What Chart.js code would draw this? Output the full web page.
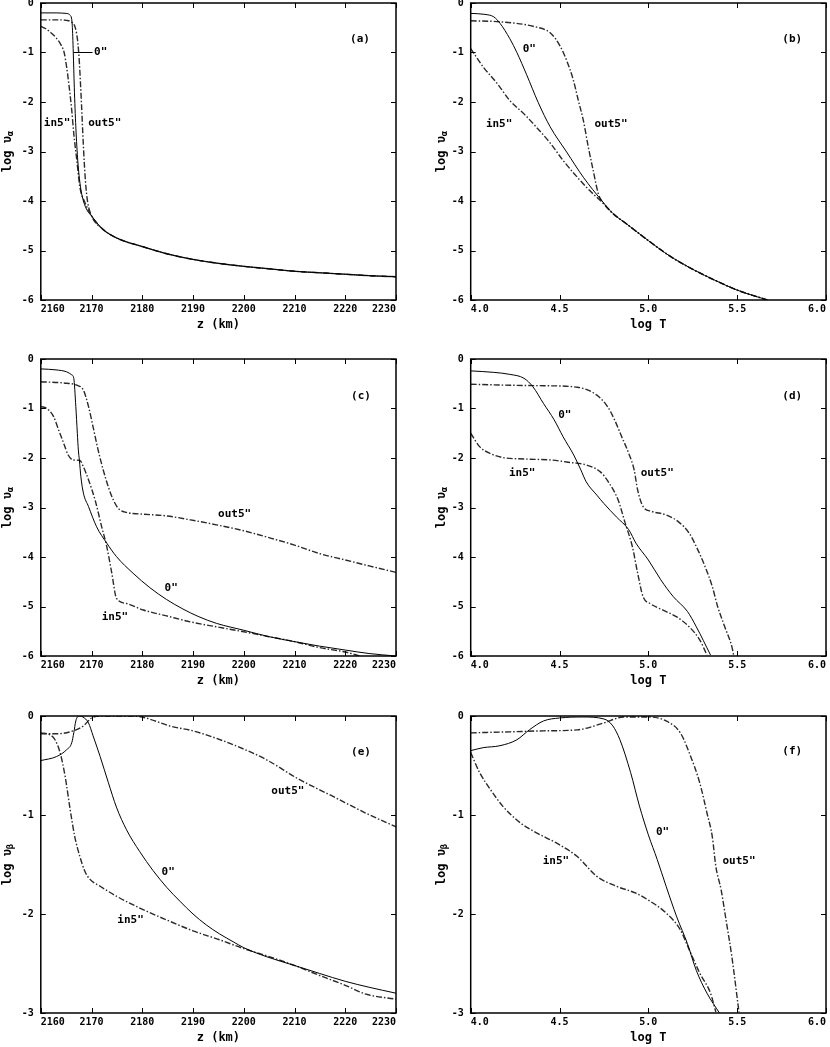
<!DOCTYPE html>
<html lang="en">
<head>
  <meta charset="UTF-8" />
  <title>log u profiles</title>
  <script src="https://cdn.jsdelivr.net/npm/chart.js"></script>
  <style>
    html, body {
      margin: 0;
      padding: 0;
      background: #fff;
    }

    .page {
      position: relative;
      width: 830px;
      height: 1047px;
      overflow: hidden;
    }

    .page canvas {
      position: absolute;
    }
  </style>
</head>
<body>
  <div class="page">
    <canvas id="pa" width="410" height="340" style="left:0;top:0"></canvas>
    <canvas id="pb" width="420" height="340" style="left:410px;top:0"></canvas>
    <canvas id="pc" width="410" height="350" style="left:0;top:340px"></canvas>
    <canvas id="pd" width="420" height="350" style="left:410px;top:340px"></canvas>
    <canvas id="pe" width="410" height="357" style="left:0;top:690px"></canvas>
    <canvas id="pf" width="420" height="357" style="left:410px;top:690px"></canvas>
  </div>

  <script>
    // ---- data ----
    // (a) log u_alpha vs z
    const a_zero_x = [2160, 2163, 2165, 2165.8, 2166.2, 2166.4, 2166.6, 2166.9, 2167.3, 2167.8, 2168.4, 2169.2, 2170, 2172, 2175, 2180, 2185, 2190, 2195, 2200, 2205, 2210, 2215, 2220, 2225, 2230];
    const a_zero_y = [-0.2, -0.2, -0.21, -0.25, -0.45, -1.0, -1.7, -2.5, -3.2, -3.7, -4.0, -4.2, -4.3, -4.55, -4.75, -4.92, -5.07, -5.18, -5.26, -5.32, -5.37, -5.42, -5.45, -5.48, -5.51, -5.53];
    const a_in_x = [2160, 2161, 2162, 2163, 2164, 2164.6, 2165.1, 2165.6, 2166.1, 2166.5, 2167.1, 2167.7, 2168.7, 2170, 2172, 2175, 2180, 2185, 2190, 2195, 2200, 2205, 2210, 2215, 2220, 2225, 2230];
    const a_in_y = [-0.47, -0.52, -0.6, -0.7, -0.85, -1.0, -1.3, -1.7, -2.17, -2.64, -3.18, -3.72, -4.03, -4.3, -4.55, -4.75, -4.92, -5.07, -5.18, -5.26, -5.32, -5.37, -5.42, -5.45, -5.48, -5.51, -5.53];
    const a_out_x = [2160, 2163, 2165, 2166, 2166.8, 2167.3, 2167.6, 2168.0, 2168.4, 2168.8, 2169.2, 2170, 2172, 2175, 2180, 2185, 2190, 2195, 2200, 2205, 2210, 2215, 2220, 2225, 2230];
    const a_out_y = [-0.34, -0.34, -0.35, -0.38, -0.5, -0.8, -1.2, -2.0, -2.9, -3.6, -4.0, -4.3, -4.55, -4.75, -4.92, -5.07, -5.18, -5.26, -5.32, -5.37, -5.42, -5.45, -5.48, -5.51, -5.53];

    // (b) log u_alpha vs log T
    const b_zero_x = [4.0, 4.08, 4.13, 4.165, 4.22, 4.26, 4.315, 4.38, 4.447, 4.54, 4.634, 4.737, 4.80, 4.88, 5.0, 5.12, 5.25, 5.38, 5.5, 5.67];
    const b_zero_y = [-0.21, -0.23, -0.28, -0.41, -0.72, -1.0, -1.45, -2.01, -2.5, -3.01, -3.52, -3.99, -4.25, -4.47, -4.8, -5.11, -5.38, -5.61, -5.8, -6.0];
    const b_in_x = [4.0, 4.07, 4.15, 4.22, 4.30, 4.37, 4.45, 4.52, 4.60, 4.67, 4.75, 4.80, 4.88, 5.0, 5.12, 5.25, 5.38, 5.5, 5.67];
    const b_in_y = [-0.92, -1.29, -1.63, -1.97, -2.24, -2.51, -2.84, -3.18, -3.52, -3.79, -4.06, -4.25, -4.47, -4.8, -5.11, -5.38, -5.61, -5.8, -6.0];
    const b_out_x = [4.0, 4.165, 4.35, 4.45, 4.50, 4.54, 4.578, 4.606, 4.634, 4.662, 4.69, 4.719, 4.75, 4.80, 4.88, 5.0, 5.12, 5.25, 5.38, 5.5, 5.67];
    const b_out_y = [-0.36, -0.38, -0.47, -0.61, -0.85, -1.16, -1.56, -1.97, -2.37, -2.91, -3.39, -3.86, -4.06, -4.25, -4.47, -4.8, -5.11, -5.38, -5.61, -5.8, -6.0];

    // (c) log u_alpha vs z
    const c_zero_x = [2160, 2163, 2165.1, 2166.1, 2166.5, 2166.9, 2167.2, 2167.4, 2167.6, 2167.9, 2168.4, 2169.4, 2171, 2173, 2174.9, 2178.2, 2181.5, 2184.8, 2188, 2191, 2194.6, 2200, 2205, 2210, 2214.9, 2220, 2224.7, 2230];
    const c_zero_y = [-0.2, -0.22, -0.26, -0.32, -0.39, -0.96, -1.5, -1.84, -2.04, -2.38, -2.71, -2.98, -3.39, -3.72, -3.99, -4.33, -4.62, -4.86, -5.05, -5.2, -5.34, -5.48, -5.61, -5.71, -5.8, -5.88, -5.95, -6.0];
    const c_in_x = [2160, 2161.2, 2162.5, 2163.5, 2164.5, 2165.4, 2166.4, 2167.7, 2168.4, 2169.4, 2170.7, 2172, 2173, 2174, 2174.9, 2176.9, 2180.2, 2184.8, 2189.5, 2194.6, 2200, 2205, 2210, 2214.9, 2220, 2223.5];
    const c_in_y = [-0.96, -1.0, -1.16, -1.43, -1.7, -1.94, -2.04, -2.05, -2.18, -2.44, -2.85, -3.39, -3.79, -4.33, -4.83, -4.94, -5.07, -5.19, -5.31, -5.41, -5.51, -5.61, -5.71, -5.83, -5.92, -6.02];
    const c_out_x = [2160, 2165.1, 2167.1, 2168.4, 2169.4, 2170.3, 2171.3, 2172.3, 2173.3, 2174.3, 2175.3, 2176.9, 2179.5, 2184.8, 2189.5, 2194.6, 2200, 2205, 2210, 2214.9, 2220, 2224.7, 2230];
    const c_out_y = [-0.46, -0.49, -0.53, -0.63, -0.96, -1.37, -1.84, -2.24, -2.58, -2.85, -3.02, -3.1, -3.13, -3.17, -3.25, -3.35, -3.47, -3.61, -3.76, -3.93, -4.06, -4.18, -4.31];

    // (d) log u_alpha vs log T
    const d_zero_x = [4.0, 4.13, 4.22, 4.30, 4.35, 4.41, 4.47, 4.52, 4.58, 4.62, 4.65, 4.71, 4.75, 4.82, 4.89, 4.93, 5.0, 5.07, 5.14, 5.22, 5.27, 5.35];
    const d_zero_y = [-0.24, -0.27, -0.31, -0.39, -0.56, -0.9, -1.23, -1.57, -1.94, -2.24, -2.48, -2.75, -2.92, -3.19, -3.45, -3.72, -4.06, -4.46, -4.8, -5.1, -5.41, -5.98];
    const d_in_x = [4.0, 4.05, 4.11, 4.18, 4.30, 4.45, 4.56, 4.65, 4.73, 4.78, 4.83, 4.87, 4.91, 4.94, 4.97, 5.01, 5.08, 5.16, 5.23, 5.29, 5.33];
    const d_in_y = [-1.5, -1.77, -1.91, -1.99, -2.02, -2.04, -2.09, -2.14, -2.28, -2.51, -2.85, -3.32, -3.79, -4.33, -4.8, -4.94, -5.07, -5.21, -5.41, -5.68, -5.98];
    const d_out_x = [4.0, 4.22, 4.41, 4.60, 4.71, 4.77, 4.81, 4.85, 4.89, 4.92, 4.94, 4.97, 5.02, 5.10, 5.17, 5.23, 5.27, 5.32, 5.36, 5.39, 5.43, 5.47, 5.48];
    const d_out_y = [-0.51, -0.53, -0.54, -0.57, -0.73, -0.96, -1.23, -1.57, -1.91, -2.24, -2.65, -2.98, -3.08, -3.15, -3.29, -3.52, -3.79, -4.2, -4.6, -5.0, -5.41, -5.81, -5.98];

    // (e) log u_beta vs z
    const e_zero_x = [2160, 2163.1, 2165.1, 2166.1, 2166.5, 2166.9, 2167.5, 2168.3, 2169.4, 2170.3, 2171.7, 2173.3, 2174.9, 2176.9, 2179.5, 2182.1, 2184.8, 2187.4, 2190, 2192.6, 2195.2, 2197.9, 2200, 2204.4, 2210, 2214.9, 2220, 2224.7, 2230];
    const e_zero_y = [-0.45, -0.41, -0.34, -0.27, -0.17, -0.05, 0.0, -0.01, -0.07, -0.2, -0.41, -0.67, -0.92, -1.15, -1.37, -1.56, -1.73, -1.87, -2.0, -2.11, -2.2, -2.28, -2.34, -2.43, -2.52, -2.6, -2.68, -2.74, -2.8];
    const e_in_x = [2160, 2161.8, 2162.8, 2163.8, 2164.8, 2165.8, 2166.7, 2167.7, 2168.7, 2169.7, 2171.7, 2174.9, 2179.5, 2184.8, 2190, 2195.2, 2200, 2205, 2210, 2214.9, 2220, 2224.1, 2230];
    const e_in_y = [-0.17, -0.19, -0.24, -0.37, -0.61, -0.95, -1.22, -1.42, -1.57, -1.65, -1.72, -1.82, -1.94, -2.06, -2.17, -2.26, -2.35, -2.43, -2.52, -2.62, -2.72, -2.81, -2.86];
    const e_out_x = [2160, 2163.1, 2166.4, 2168.4, 2170, 2171.7, 2178.2, 2186.1, 2190, 2197.9, 2204.4, 2210.9, 2217.5, 2224, 2230];
    const e_out_y = [-0.18, -0.18, -0.15, -0.1, -0.02, 0.0, 0.0, -0.11, -0.15, -0.29, -0.44, -0.64, -0.81, -0.98, -1.12];

    // (f) log u_beta vs log T
    const f_zero_x = [4.0, 4.07, 4.165, 4.26, 4.33, 4.41, 4.5, 4.63, 4.75, 4.80, 4.84, 4.9, 4.95, 5.0, 5.05, 5.10, 5.16, 5.22, 5.27, 5.33, 5.40];
    const f_zero_y = [-0.35, -0.32, -0.3, -0.24, -0.14, -0.05, -0.02, -0.01, -0.03, -0.1, -0.24, -0.57, -0.91, -1.2, -1.45, -1.72, -2.03, -2.3, -2.57, -2.8, -3.0];
    const f_in_x = [4.0, 4.05, 4.11, 4.18, 4.28, 4.37, 4.48, 4.60, 4.71, 4.82, 4.93, 5.0, 5.10, 5.18, 5.23, 5.29, 5.35, 5.38];
    const f_in_y = [-0.37, -0.57, -0.74, -0.91, -1.08, -1.18, -1.28, -1.42, -1.62, -1.72, -1.79, -1.86, -1.99, -2.16, -2.36, -2.6, -2.8, -2.99];
    const f_out_x = [4.0, 4.22, 4.41, 4.60, 4.75, 4.86, 5.0, 5.10, 5.18, 5.23, 5.29, 5.33, 5.36, 5.38, 5.41, 5.44, 5.47, 5.51];
    const f_out_y = [-0.17, -0.16, -0.15, -0.14, -0.07, -0.01, -0.01, -0.05, -0.17, -0.37, -0.68, -0.98, -1.22, -1.52, -1.76, -2.09, -2.43, -2.99];

    // axis ranges / ticks
    const zRange = [2160, 2230];
    const zStep = 10;
    const tRange = [4.0, 6.0];
    const tStep = 0.5;
    const alphaRange = [-6, 0];
    const betaRange = [-3, 0];

    const FONT = '"DejaVu Sans Mono", monospace';

    // curve labels written on the plots, in data units
    const notesA = [['0"', 2171.8, -0.99], ['in5"', 2163.2, -2.42], ['out5"', 2172.6, -2.42], ['(a)', 2222.9, -0.73]];
    const notesB = [['0"', 4.33, -0.94], ['in5"', 4.16, -2.44], ['out5"', 4.79, -2.45], ['(b)', 5.81, -0.74]];
    const notesC = [['0"', 2185.7, -4.63], ['in5"', 2174.6, -5.22], ['out5"', 2198.2, -3.13], ['(c)', 2223.1, -0.75]];
    const notesD = [['0"', 4.53, -1.13], ['in5"', 4.29, -2.31], ['out5"', 5.05, -2.31], ['(d)', 5.81, -0.75]];
    const notesE = [['0"', 2185.1, -1.58], ['in5"', 2177.7, -2.06], ['out5"', 2208.7, -0.76], ['(e)', 2223.1, -0.37]];
    const notesF = [['0"', 5.08, -1.17], ['in5"', 4.48, -1.47], ['out5"', 5.51, -1.47], ['(f)', 5.81, -0.36]];

    // frame, inward ticks, y title with subscript and curve labels
    const framePlugin = {
      id: 'frame',
      afterDraw(chart, args, opts) {
        const { ctx, chartArea: { left, right, top, bottom }, scales: { x, y } } = chart;
        ctx.save();
        ctx.strokeStyle = '#000';
        ctx.lineWidth = 1.5;
        ctx.strokeRect(left, top, right - left, bottom - top);

        ctx.lineWidth = 1;
        ctx.beginPath();
        x.ticks.forEach(t => {
          const px = Math.round(x.getPixelForValue(t.value)) + 0.5;
          ctx.moveTo(px, bottom); ctx.lineTo(px, bottom - 5);
          ctx.moveTo(px, top); ctx.lineTo(px, top + 5);
        });
        y.ticks.forEach(t => {
          const py = Math.round(y.getPixelForValue(t.value)) + 0.5;
          ctx.moveTo(left, py); ctx.lineTo(left + 5, py);
          ctx.moveTo(right, py); ctx.lineTo(right - 5, py);
        });
        ctx.stroke();

        // y title: log υ + subscript
        ctx.fillStyle = '#000';
        ctx.translate(opts.titleX, (top + bottom) / 2);
        ctx.rotate(-Math.PI / 2);
        const main = 'log υ';
        ctx.font = 'bold 12px ' + FONT;
        const w1 = ctx.measureText(main).width;
        ctx.font = 'bold 9px ' + FONT;
        const w2 = ctx.measureText(opts.sub).width;
        ctx.textBaseline = 'middle';
        ctx.textAlign = 'left';
        ctx.font = 'bold 12px ' + FONT;
        ctx.fillText(main, -(w1 + w2) / 2, 0);
        ctx.font = 'bold 9px ' + FONT;
        ctx.fillText(opts.sub, -(w1 + w2) / 2 + w1, 3);
        ctx.setTransform(1, 0, 0, 1, 0, 0);

        // curve labels
        ctx.font = 'bold 11px ' + FONT;
        ctx.textAlign = 'center';
        ctx.textBaseline = 'middle';
        opts.notes.forEach(([text, vx, vy]) => {
          ctx.fillText(text, x.getPixelForValue(vx), y.getPixelForValue(vy));
        });
        if (opts.lead) {
          const [x0, x1, ly] = opts.lead;
          const py = Math.round(y.getPixelForValue(ly)) + 0.5;
          ctx.beginPath();
          ctx.moveTo(x.getPixelForValue(x0), py);
          ctx.lineTo(x.getPixelForValue(x1), py);
          ctx.stroke();
        }
        ctx.restore();
      }
    };

    const series = (xs, ys, kind) => ({
      data: xs.map((v, i) => ({ x: v, y: ys[i] })),
      showLine: true,
      pointRadius: 0,
      fill: false,
      cubicInterpolationMode: 'monotone',
      borderColor: kind === 'zero' ? '#000' : '#2a2a2a',
      borderWidth: kind === 'zero' ? 1 : 1.4,
      borderDash: kind === 'zero' ? [] : [6, 2, 1.5, 2]
    });

    function makePanel(id, p) {
      return new Chart(document.getElementById(id), {
        type: 'scatter',
        data: { datasets: p.datasets },
        options: {
          responsive: false,
          animation: false,
          layout: { padding: p.pad },
          plugins: {
            legend: { display: false },
            tooltip: { enabled: false },
            frame: { titleX: p.titleX, sub: p.sub, notes: p.notes, lead: p.lead }
          },
          scales: {
            x: {
              type: 'linear',
              min: p.xRange[0],
              max: p.xRange[1],
              grid: { display: false, drawTicks: false },
              border: { display: false },
              ticks: {
                stepSize: p.xStep,
                align: 'inner',
                padding: 3,
                maxRotation: 0,
                color: '#000',
                font: { family: FONT, size: 10, weight: 'bold' },
                callback: v => p.xStep < 1 ? v.toFixed(1) : String(v)
              },
              title: {
                display: true,
                text: p.xTitle,
                color: '#000',
                font: { family: FONT, size: 12, weight: 'bold' },
                padding: { top: 0, bottom: 1.8 }
              },
              afterFit: s => { s.height = 34; s.paddingLeft = 0; s.paddingRight = 0; }
            },
            y: {
              type: 'linear',
              min: p.yRange[0],
              max: p.yRange[1],
              grid: { display: false, drawTicks: false },
              border: { display: false },
              ticks: {
                stepSize: 1,
                padding: 7,
                color: '#000',
                font: { family: FONT, size: 10, weight: 'bold' },
                callback: v => String(v)
              },
              afterFit: s => { s.width = p.yWidth; s.paddingTop = 0; s.paddingBottom = 0; }
            }
          }
        },
        plugins: [framePlugin]
      });
    }

    const leftPad = top => ({ left: 0, top, right: 14, bottom: top === 3 ? 6 : 0 });
    const rightPad = top => ({ left: 24, top, right: 4, bottom: top === 3 ? 6 : 0 });

    makePanel('pa', {
      datasets: [series(a_zero_x, a_zero_y, 'zero'), series(a_in_x, a_in_y, 'in'), series(a_out_x, a_out_y, 'out')],
      xRange: zRange, xStep: zStep, xTitle: 'z (km)', yRange: alphaRange, sub: 'α',
      pad: leftPad(3), yWidth: 40.8, titleX: 8, notes: notesA, lead: [2166.4, 2170.2, -1]
    });
    makePanel('pb', {
      datasets: [series(b_zero_x, b_zero_y, 'zero'), series(b_in_x, b_in_y, 'in'), series(b_out_x, b_out_y, 'out')],
      xRange: tRange, xStep: tStep, xTitle: 'log T', yRange: alphaRange, sub: 'α',
      pad: rightPad(3), yWidth: 36.7, titleX: 32, notes: notesB
    });
    makePanel('pc', {
      datasets: [series(c_zero_x, c_zero_y, 'zero'), series(c_in_x, c_in_y, 'in'), series(c_out_x, c_out_y, 'out')],
      xRange: zRange, xStep: zStep, xTitle: 'z (km)', yRange: alphaRange, sub: 'α',
      pad: leftPad(19), yWidth: 40.8, titleX: 8, notes: notesC
    });
    makePanel('pd', {
      datasets: [series(d_zero_x, d_zero_y, 'zero'), series(d_in_x, d_in_y, 'in'), series(d_out_x, d_out_y, 'out')],
      xRange: tRange, xStep: tStep, xTitle: 'log T', yRange: alphaRange, sub: 'α',
      pad: rightPad(19), yWidth: 36.7, titleX: 32, notes: notesD
    });
    makePanel('pe', {
      datasets: [series(e_zero_x, e_zero_y, 'zero'), series(e_in_x, e_in_y, 'in'), series(e_out_x, e_out_y, 'out')],
      xRange: zRange, xStep: zStep, xTitle: 'z (km)', yRange: betaRange, sub: 'β',
      pad: leftPad(26), yWidth: 40.8, titleX: 8, notes: notesE
    });
    makePanel('pf', {
      datasets: [series(f_zero_x, f_zero_y, 'zero'), series(f_in_x, f_in_y, 'in'), series(f_out_x, f_out_y, 'out')],
      xRange: tRange, xStep: tStep, xTitle: 'log T', yRange: betaRange, sub: 'β',
      pad: rightPad(26), yWidth: 36.7, titleX: 32, notes: notesF
    });
  </script>
</body>
</html>
